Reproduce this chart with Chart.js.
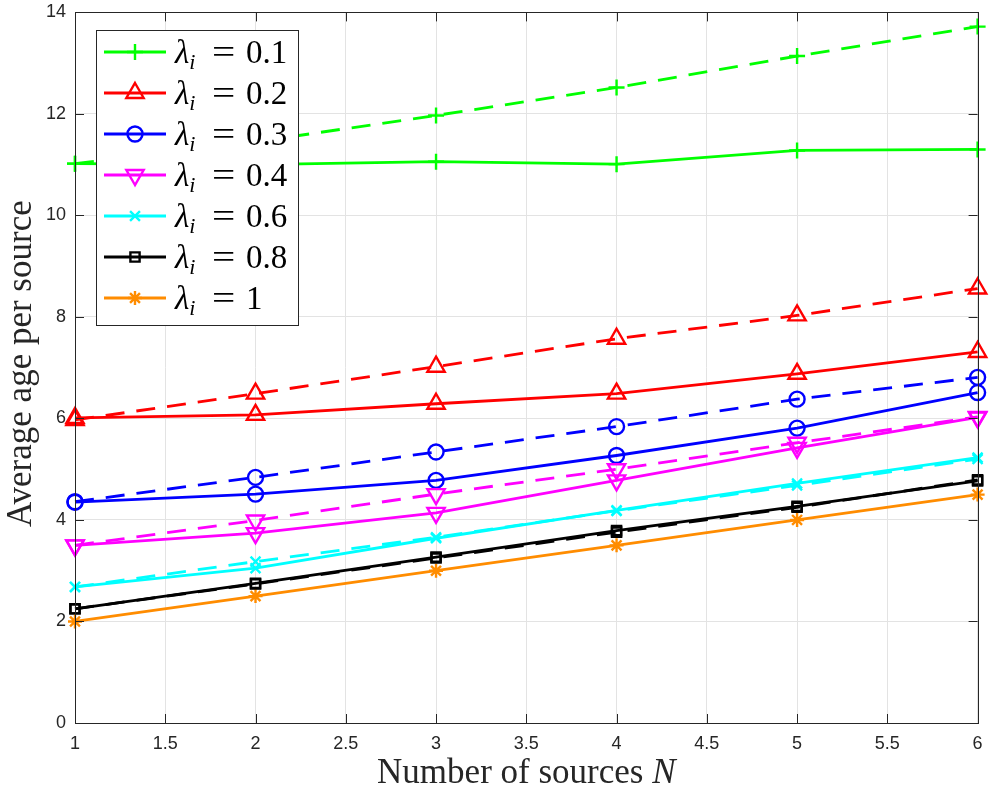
<!DOCTYPE html>
<html>
<head>
<meta charset="utf-8">
<script src="https://cdn.jsdelivr.net/npm/chart.js@4.4.1/dist/chart.umd.min.js"></script>
<style>
html,body{margin:0;padding:0;background:#fff;}
#wrap{width:990px;height:790px;position:relative;}
</style>
</head>
<body>
<div id="wrap"><canvas id="c" width="990" height="790"></canvas></div>
<script>
// ---- data ----
const nSources = [1, 2, 3, 4, 5, 6];
const lambdaLabels = ['0.1', '0.2', '0.3', '0.4', '0.6', '0.8', '1'];
const xTicks = [1, 1.5, 2, 2.5, 3, 3.5, 4, 4.5, 5, 5.5, 6];
const yTicks = [0, 2, 4, 6, 8, 10, 12, 14];

const solid01 = [11.02, 11.0, 11.06, 11.01, 11.28, 11.30];
const dashed01 = [11.02, 11.45, 11.97, 12.52, 13.14, 13.72];
const solid02 = [6.01, 6.07, 6.29, 6.49, 6.88, 7.31];
const dashed02 = [5.97, 6.49, 7.02, 7.57, 8.03, 8.56];
const solid03 = [4.35, 4.51, 4.78, 5.27, 5.81, 6.51];
const dashed03 = [4.36, 4.84, 5.34, 5.84, 6.38, 6.81];
const solid04 = [3.50, 3.74, 4.14, 4.78, 5.42, 6.02];
const dashed04 = [3.50, 3.99, 4.51, 5.00, 5.52, 6.03];
const solid06 = [2.68, 3.05, 3.64, 4.19, 4.72, 5.23];
const dashed06 = [2.68, 3.18, 3.66, 4.18, 4.68, 5.20];
const solid08 = [2.25, 2.75, 3.27, 3.79, 4.27, 4.77];
const dashed08 = [2.25, 2.74, 3.25, 3.76, 4.25, 4.79];
const solid10 = [2.00, 2.50, 3.00, 3.50, 4.00, 4.50];

const seriesColors = ['#00ff00', '#ff0000', '#0000ff', '#ff00ff', '#00ffff', '#000000', '#ff8c00'];
const markerStyles = [
  {pointStyle: 'cross', radius: 8, rotation: 0},
  {pointStyle: 'triangle', radius: 10, rotation: 0},
  {pointStyle: 'circle', radius: 7.5, rotation: 0},
  {pointStyle: 'triangle', radius: 10, rotation: 180},
  {pointStyle: 'crossRot', radius: 7, rotation: 0},
  {pointStyle: 'rect', radius: 6.5, rotation: 0},
  {pointStyle: 'star', radius: 7, rotation: 0}
];
const solidSeries = [solid01, solid02, solid03, solid04, solid06, solid08, solid10];
const dashedSeries = [dashed01, dashed02, dashed03, dashed04, dashed06, dashed08, null];

// ---- chart ----
const DASH = [19, 12];
const LW = 2.8;
const toXY = arr => nSources.map((x, i) => ({x: x, y: arr[i]}));
const datasets = [];
function mk(arr, k, dashed) {
  const m = markerStyles[k];
  return {
    label: 'λi = ' + lambdaLabels[k] + (dashed ? ' (dashed)' : ''),
    data: toXY(arr),
    borderColor: seriesColors[k],
    backgroundColor: 'rgba(0,0,0,0)',
    borderWidth: LW,
    borderDash: dashed ? DASH : [],
    pointStyle: m.pointStyle,
    pointRadius: m.radius,
    pointRotation: m.rotation,
    pointBorderWidth: 2.4,
    pointBorderColor: seriesColors[k],
    pointBackgroundColor: 'rgba(0,0,0,0)',
    pointHoverRadius: m.radius,
    tension: 0,
    clip: false
  };
}
for (let k = 0; k < solidSeries.length; k++) {
  if (dashedSeries[k]) datasets.push(mk(dashedSeries[k], k, true));
}
for (let k = solidSeries.length - 1; k >= 0; k--) {
  datasets.push(mk(solidSeries[k], k, false));
}

const AX = '#262626';
const SERIF = '"Liberation Serif", "DejaVu Serif", serif';
const frame = {
  id: 'frame',
  afterDraw(chart) {
    const {ctx, chartArea: a, scales} = chart;
    ctx.save();
    ctx.strokeStyle = AX;
    ctx.lineWidth = 1;
    ctx.strokeRect(Math.round(a.left) + 0.5, Math.round(a.top) + 0.5, Math.round(a.right - a.left), Math.round(a.bottom - a.top));
    const tl = 9;
    ctx.beginPath();
    xTicks.forEach(v => {
      const px = Math.round(scales.x.getPixelForValue(v)) + 0.5;
      ctx.moveTo(px, a.bottom); ctx.lineTo(px, a.bottom - tl);
      ctx.moveTo(px, a.top); ctx.lineTo(px, a.top + tl);
    });
    yTicks.forEach(v => {
      const py = Math.round(scales.y.getPixelForValue(v)) + 0.5;
      ctx.moveTo(a.left, py); ctx.lineTo(a.left + tl, py);
      ctx.moveTo(a.right, py); ctx.lineTo(a.right - tl, py);
    });
    ctx.stroke();

    // axis titles
    ctx.fillStyle = AX;
    ctx.textBaseline = 'alphabetic';
    const xs = 'Number of sources ';
    ctx.font = '35px ' + SERIF;
    const w1 = ctx.measureText(xs).width;
    ctx.font = 'italic 35px ' + SERIF;
    const w2 = ctx.measureText('N').width;
    const cx = (a.left + a.right) / 2;
    let x0 = cx - (w1 + w2) / 2;
    ctx.textAlign = 'left';
    ctx.font = '35px ' + SERIF;
    ctx.fillText(xs, x0, 783);
    ctx.font = 'italic 35px ' + SERIF;
    ctx.fillText('N', x0 + w1, 783);

    ctx.save();
    ctx.translate(31, (a.top + a.bottom) / 2 - 4);
    ctx.rotate(-Math.PI / 2);
    ctx.textAlign = 'center';
    ctx.font = '35px ' + SERIF;
    ctx.fillText('Average age per source', 0, 0);
    ctx.restore();

    // legend
    const L = {x: 96, y: 30, w: 202, h: 295};
    ctx.fillStyle = '#fff';
    ctx.fillRect(L.x, L.y, L.w, L.h);
    ctx.strokeStyle = AX;
    ctx.lineWidth = 1;
    ctx.strokeRect(L.x + 0.5, L.y + 0.5, L.w, L.h);
    for (let k = 0; k < lambdaLabels.length; k++) {
      const y = 52 + k * 41;
      const col = seriesColors[k];
      ctx.strokeStyle = col;
      ctx.lineWidth = LW;
      ctx.setLineDash([]);
      ctx.beginPath();
      ctx.moveTo(104, y); ctx.lineTo(166, y);
      ctx.stroke();
      const m = markerStyles[k];
      ctx.lineWidth = 2.4;
      ctx.fillStyle = 'rgba(0,0,0,0)';
      Chart.helpers.drawPoint(ctx, {pointStyle: m.pointStyle, radius: m.radius, rotation: m.rotation, borderWidth: 2.4}, 135, y);
      // text
      ctx.fillStyle = '#000';
      ctx.textAlign = 'left';
      ctx.textBaseline = 'alphabetic';
      const base = y + 11;
      let tx = 175;
      ctx.font = 'italic 33px ' + SERIF;
      ctx.fillText('λ', tx, base);
      tx += ctx.measureText('λ').width;
      ctx.font = 'italic 22px ' + SERIF;
      ctx.fillText('i', tx, base + 6);
      ctx.font = '33px ' + SERIF;
      ctx.save();
      ctx.translate(212, base);
      ctx.scale(1.25, 1);
      ctx.fillText('=', 0, 0);
      ctx.restore();
      ctx.fillText(lambdaLabels[k], 246, base);
    }
    ctx.restore();
  }
};

new Chart(document.getElementById('c'), {
  type: 'line',
  data: {datasets: datasets},
  options: {
    responsive: false,
    animation: false,
    layout: {padding: {left: 0, right: 12, top: 10, bottom: 0}},
    plugins: {legend: {display: false}, tooltip: {enabled: false}},
    scales: {
      x: {
        type: 'linear', min: 1, max: 6,
        afterFit: s => { s.height = 67; s.paddingLeft = 0; s.paddingRight = 0; },
        afterBuildTicks: s => { s.ticks = xTicks.map(v => ({value: v})); },
        grid: {color: '#e3e3e3', drawTicks: false, lineWidth: 1},
        border: {display: false},
        ticks: {
          padding: 10, color: AX, maxRotation: 0, autoSkip: false,
          font: {family: '"Liberation Sans Narrow", "Liberation Sans", sans-serif', size: 18},
          callback: v => String(v)
        }
      },
      y: {
        type: 'linear', min: 0, max: 14,
        afterFit: s => { s.width = 75; s.paddingTop = 0; s.paddingBottom = 0; },
        afterBuildTicks: s => { s.ticks = yTicks.map(v => ({value: v})); },
        grid: {color: '#e3e3e3', drawTicks: false, lineWidth: 1},
        border: {display: false},
        ticks: {
          padding: 9, color: AX,
          font: {family: '"Liberation Sans Narrow", "Liberation Sans", sans-serif', size: 18},
          callback: v => String(v)
        }
      }
    }
  },
  plugins: [frame]
});
</script>
</body>
</html>
